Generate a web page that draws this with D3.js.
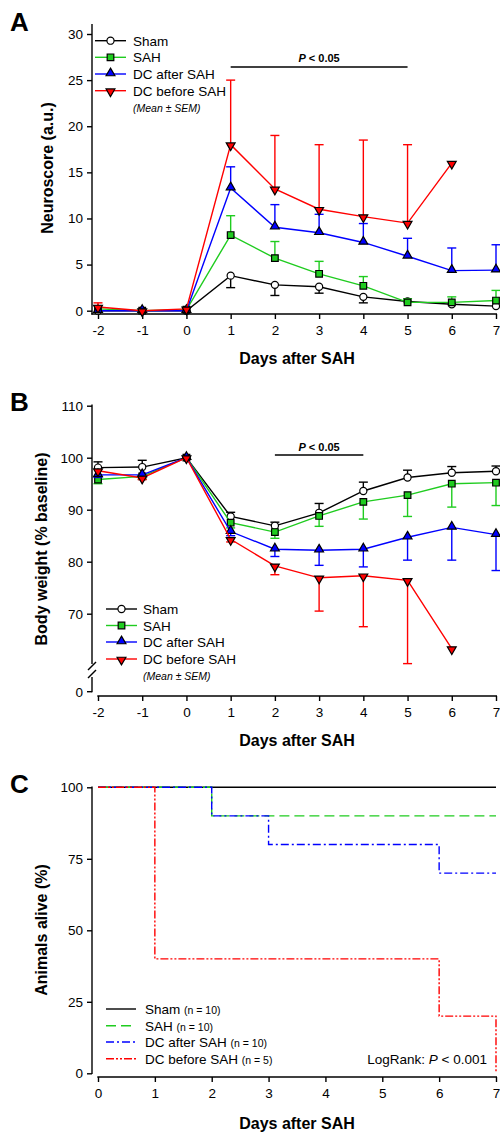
<!DOCTYPE html>
<html>
<head>
<meta charset="utf-8">
<script src="https://cdn.jsdelivr.net/npm/d3@7"></script>
<style>
  html, body { margin: 0; padding: 0; background: #fff; }
  svg { display: block; }
  text { font-family: "Liberation Sans", Arial, sans-serif; fill: #000; }
</style>
</head>
<body>
<svg id="chart" width="500" height="1135"></svg>
<script>
// ---------------- DATA ----------------
const seriesNames = ["Sham", "SAH", "DC after SAH", "DC before SAH"];
const seriesColors = ["#000000", "#1fcc1f", "#0000ff", "#ff0000"];
const seriesSymbols = ["circle", "square", "triangleUp", "triangleDown"];

const days = [-2, -1, 0, 1, 2, 3, 4, 5, 6, 7];
const dayTicks = [-2, -1, 0, 1, 2, 3, 4, 5, 6, 7];

// Panel A: Neuroscore (a.u.)
const neuroSham = [0, 0, 0, 3.8, 2.8, 2.6, 1.5, 1.0, 0.7, 0.5];
const neuroShamErr = [0, 0, 0, -1.3, -1.15, -0.7, -0.65, 0, 0, 0];
const neuroSAH = [0.2, 0, 0.1, 8.2, 5.7, 4.0, 2.7, 0.9, 0.9, 1.1];
const neuroSAHErr = [0, 0, 0, 2.1, 1.8, 1.35, 1.0, 0.4, 0.6, 1.1];
const neuroDCafter = [0, 0, 0, 13.3, 9.05, 8.45, 7.4, 5.9, 4.35, 4.4];
const neuroDCafterErr = [0, 0, 0, 2.3, 2.45, 2.0, 2.05, 1.95, 2.45, 2.75];
const neuroDCbefore = [0.4, 0, 0.2, 18.0, 13.2, 11.0, 10.2, 9.5, 16.0, null];
const neuroDCbeforeErr = [0.45, 0, 0, 7.0, 5.8, 7.0, 8.3, 8.5, 0, null];
const neuroTicks = [0, 5, 10, 15, 20, 25, 30];

// Panel B: Body weight (% baseline)
const bwSham = [98.1, 98.2, 100, 88.7, 86.9, 89.4, 93.6, 96.2, 97.1, 97.4];
const bwShamErr = [1.1, 1.3, 0, 0.8, 0.7, 1.8, 1.7, 1.4, 1.2, 1.0];
const bwSAH = [95.8, 96.4, 100, 87.5, 85.7, 88.8, 91.5, 92.8, 95.0, 95.2];
const bwSAHErr = [-0.8, -0.5, 0, -1.0, -1.2, -2.0, -3.3, -4.1, -4.5, -4.4];
const bwDCafter = [96.7, 96.7, 100, 85.8, 82.4, 82.2, 82.4, 84.7, 86.6, 85.2];
const bwDCafterErr = [-0.5, -0.4, 0, -0.8, -1.4, -2.9, -3.4, -4.4, -6.3, -6.9];
const bwDCbefore = [97.5, 96.1, 100, 84.3, 79.2, 76.9, 77.3, 76.4, 63.3, null];
const bwDCbeforeErr = [0, -0.3, 0, -0.5, -1.7, -6.4, -9.8, -16.0, 0, null];
const bwTicks = [70, 80, 90, 100, 110];

// Panel C: Animals alive (%) — Kaplan–Meier steps
const survDays = [0, 1, 2, 3, 4, 5, 6, 7];
const survShamT = [0, 7], survShamV = [100, 100];
const survSAHT = [0, 2, 7], survSAHV = [100, 90, 90];
const survDCafterT = [0, 2, 3, 6, 7], survDCafterV = [100, 90, 80, 70, 70];
const survDCbeforeT = [0, 1, 6, 7], survDCbeforeV = [100, 40, 20, 0];
const survTicks = [0, 25, 50, 75, 100];
const survN = ["(n = 10)", "(n = 10)", "(n = 10)", "(n = 5)"];
const survDash = [null, "10,5", "8,3,2,3", "8,2,2,2,2,2"];

// ---------------- DRAWING ----------------
const svg = d3.select("#chart");
const FONT = '"Liberation Sans", Arial, sans-serif';
const LW = 1.4;
const fmt = d => String(d);

function symbolPath(kind) {
  if (kind === "circle") return d3.symbol(d3.symbolCircle, 40)();
  if (kind === "square") return d3.symbol(d3.symbolSquare, 44)();
  return d3.symbol(d3.symbolTriangle, 34)();
}
function drawMarker(g, kind, color, x, y) {
  const p = g.append("path")
    .attr("d", symbolPath(kind))
    .attr("fill", kind === "circle" ? "#fff" : color)
    .attr("stroke", "#000").attr("stroke-width", 1.2);
  if (kind === "triangleDown") p.attr("transform", `translate(${x},${y + 0.8}) rotate(180)`);
  else if (kind === "triangleUp") p.attr("transform", `translate(${x},${y - 0.8})`);
  else p.attr("transform", `translate(${x},${y})`);
}

function panelLetter(txt, y) {
  svg.append("text").attr("x", 10).attr("y", y).text(txt)
    .attr("font-size", 26).attr("font-weight", "bold");
}
function yTitle(txt, x, cy) {
  svg.append("text").attr("transform", `translate(${x},${cy}) rotate(-90)`)
    .attr("text-anchor", "middle").attr("font-size", 16).attr("font-weight", "bold").text(txt);
}
function xTitle(txt, cx, y) {
  svg.append("text").attr("x", cx).attr("y", y).attr("text-anchor", "middle")
    .attr("font-size", 16).attr("font-weight", "bold").text(txt);
}
function styleAxis(g) {
  g.selectAll("path.domain").remove();
  g.selectAll(".tick line").attr("stroke", "#000").attr("stroke-width", LW);
  g.selectAll(".tick text").attr("font-size", 13.5).attr("font-family", FONT).attr("fill", "#000");
}
function pText(g, x, y, size) {
  const t = g.append("text").attr("x", x).attr("y", y).attr("text-anchor", "middle")
    .attr("font-size", size).attr("font-weight", "bold");
  t.append("tspan").attr("font-style", "italic").text("P");
  t.append("tspan").text(" < 0.05");
}

function drawSeriesPanel(cfg) {
  const { x, y, data } = cfg;
  const g = svg.append("g");
  data.forEach((s, si) => {
    const color = seriesColors[si];
    const pts = days.map((d, i) => ({ d, v: s.mean[i], e: s.err[i] })).filter(p => p.v != null);
    pts.forEach(p => {
      if (!p.e) return;
      const x0 = x(p.d), y0 = y(p.v), y1 = y(p.v + p.e);
      g.append("line").attr("x1", x0).attr("x2", x0).attr("y1", y0).attr("y2", y1)
        .attr("stroke", color).attr("stroke-width", LW);
      g.append("line").attr("x1", x0 - 4.5).attr("x2", x0 + 4.5).attr("y1", y1).attr("y2", y1)
        .attr("stroke", color).attr("stroke-width", LW);
    });
    g.append("path").datum(pts)
      .attr("d", d3.line().x(p => x(p.d)).y(p => y(p.v)))
      .attr("fill", "none").attr("stroke", color).attr("stroke-width", LW);
    pts.forEach(p => drawMarker(g, seriesSymbols[si], color, x(p.d), y(p.v)));
  });
}

function drawLegendMarkers(x0, x1, tx, rows, meanY) {
  const g = svg.append("g");
  seriesNames.forEach((n, i) => {
    g.append("line").attr("x1", x0).attr("x2", x1).attr("y1", rows[i]).attr("y2", rows[i])
      .attr("stroke", seriesColors[i]).attr("stroke-width", LW);
    drawMarker(g, seriesSymbols[i], seriesColors[i], (x0 + x1) / 2, rows[i]);
    g.append("text").attr("x", tx).attr("y", rows[i] + 5).attr("font-size", 13.5).text(n);
  });
  g.append("text").attr("x", tx).attr("y", meanY).attr("font-size", 10.5)
    .attr("font-style", "italic").text("(Mean \u00b1 SEM)");
}

// ===== Panel A =====
{
  const x = d3.scaleLinear().domain([-2, 7]).range([98, 496]);
  const y = d3.scaleLinear().domain([0, 30]).range([310.7, 34]);
  panelLetter("A", 31);
  svg.append("line").attr("x1", 92).attr("x2", 92).attr("y1", 24).attr("y2", 314.5)
    .attr("stroke", "#000").attr("stroke-width", LW);
  svg.append("line").attr("x1", 91.3).attr("x2", 497).attr("y1", 314).attr("y2", 314)
    .attr("stroke", "#000").attr("stroke-width", LW);
  const ya = svg.append("g").attr("transform", "translate(92,0)")
    .call(d3.axisLeft(y).tickValues(neuroTicks).tickSize(5).tickPadding(4).tickFormat(fmt));
  styleAxis(ya);
  const xa = svg.append("g").attr("transform", "translate(0,314)")
    .call(d3.axisBottom(x).tickValues(dayTicks).tickSize(5).tickPadding(6).tickFormat(fmt));
  styleAxis(xa);
  yTitle("Neuroscore (a.u.)", 53, 168);
  xTitle("Days after SAH", 297, 364);

  svg.append("line").attr("x1", x(1)).attr("x2", x(5)).attr("y1", 67).attr("y2", 67)
    .attr("stroke", "#000").attr("stroke-width", LW);
  pText(svg, x(3), 62, 11);

  drawSeriesPanel({ x, y, data: [
    { mean: neuroSham, err: neuroShamErr },
    { mean: neuroSAH, err: neuroSAHErr },
    { mean: neuroDCafter, err: neuroDCafterErr },
    { mean: neuroDCbefore, err: neuroDCbeforeErr }
  ]});
  drawLegendMarkers(95, 126, 133, [40.7, 57.3, 74, 90.7], 112);
}

// ===== Panel B =====
{
  const x = d3.scaleLinear().domain([-2, 7]).range([98, 496]);
  const y = d3.scaleLinear().domain([60, 110]).range([665.7, 405.7]);
  const yZero = 691.7;
  panelLetter("B", 411);
  svg.append("line").attr("x1", 92).attr("x2", 92).attr("y1", 404.5).attr("y2", 664)
    .attr("stroke", "#000").attr("stroke-width", LW);
  svg.append("line").attr("x1", 92).attr("x2", 92).attr("y1", 677).attr("y2", yZero + 0.6)
    .attr("stroke", "#000").attr("stroke-width", LW);
  svg.append("line").attr("x1", 88).attr("x2", 96).attr("y1", 670).attr("y2", 662)
    .attr("stroke", "#000").attr("stroke-width", LW);
  svg.append("line").attr("x1", 88).attr("x2", 96).attr("y1", 678).attr("y2", 670)
    .attr("stroke", "#000").attr("stroke-width", LW);
  svg.append("line").attr("x1", 97.3).attr("x2", 497).attr("y1", 696).attr("y2", 696)
    .attr("stroke", "#000").attr("stroke-width", LW);
  const ya = svg.append("g").attr("transform", "translate(92,0)")
    .call(d3.axisLeft(y).tickValues(bwTicks).tickSize(5).tickPadding(4).tickFormat(fmt));
  styleAxis(ya);
  svg.append("line").attr("x1", 87).attr("x2", 92).attr("y1", yZero).attr("y2", yZero)
    .attr("stroke", "#000").attr("stroke-width", LW);
  svg.append("text").attr("x", 83).attr("y", yZero + 5).attr("text-anchor", "end")
    .attr("font-size", 13.5).text("0");
  const xa = svg.append("g").attr("transform", "translate(0,696)")
    .call(d3.axisBottom(x).tickValues(dayTicks).tickSize(5).tickPadding(6).tickFormat(fmt));
  styleAxis(xa);
  yTitle("Body weight (% baseline)", 47, 549);
  xTitle("Days after SAH", 297, 746);

  svg.append("line").attr("x1", x(2)).attr("x2", x(4)).attr("y1", 455).attr("y2", 455)
    .attr("stroke", "#000").attr("stroke-width", LW);
  pText(svg, x(3), 450.5, 11);

  drawSeriesPanel({ x, y, data: [
    { mean: bwSham, err: bwShamErr },
    { mean: bwSAH, err: bwSAHErr },
    { mean: bwDCafter, err: bwDCafterErr },
    { mean: bwDCbefore, err: bwDCbeforeErr }
  ]});
  drawLegendMarkers(106, 137, 143, [609, 625.5, 642, 659], 680);
}

// ===== Panel C =====
{
  const x = d3.scaleLinear().domain([0, 7]).range([98, 496]);
  const y = d3.scaleLinear().domain([0, 100]).range([1073.3, 787.3]);
  panelLetter("C", 793);
  svg.append("line").attr("x1", 92).attr("x2", 92).attr("y1", 786.6).attr("y2", 1074)
    .attr("stroke", "#000").attr("stroke-width", LW);
  svg.append("line").attr("x1", 97.3).attr("x2", 497).attr("y1", 1077).attr("y2", 1077)
    .attr("stroke", "#000").attr("stroke-width", LW);
  const ya = svg.append("g").attr("transform", "translate(92,0)")
    .call(d3.axisLeft(y).tickValues(survTicks).tickSize(5).tickPadding(4).tickFormat(fmt));
  styleAxis(ya);
  const xa = svg.append("g").attr("transform", "translate(0,1077)")
    .call(d3.axisBottom(x).tickValues(survDays).tickSize(5).tickPadding(6).tickFormat(fmt));
  styleAxis(xa);
  yTitle("Animals alive (%)", 47, 930);
  xTitle("Days after SAH", 297, 1129);

  const survT = [survShamT, survSAHT, survDCafterT, survDCbeforeT];
  const survV = [survShamV, survSAHV, survDCafterV, survDCbeforeV];
  const line = d3.line().curve(d3.curveStepAfter).x(p => x(p[0])).y(p => y(p[1]));
  survT.forEach((T, si) => {
    const pts = T.map((t, i) => [t, survV[si][i]]);
    const p = svg.append("path").datum(pts).attr("d", line)
      .attr("fill", "none").attr("stroke", seriesColors[si]).attr("stroke-width", LW);
    if (survDash[si]) p.attr("stroke-dasharray", survDash[si]);
  });

  const rows = [1009, 1025.7, 1042, 1058.7];
  seriesNames.forEach((n, i) => {
    const l = svg.append("line").attr("x1", 106).attr("x2", 136).attr("y1", rows[i]).attr("y2", rows[i])
      .attr("stroke", seriesColors[i]).attr("stroke-width", LW);
    if (survDash[i]) l.attr("stroke-dasharray", survDash[i]);
    const t = svg.append("text").attr("x", 145).attr("y", rows[i] + 5).attr("font-size", 13.5);
    t.append("tspan").text(n + " ");
    t.append("tspan").attr("font-size", 10.5).text(survN[i]);
  });
  const lr = svg.append("text").attr("x", 487).attr("y", 1063.5).attr("text-anchor", "end")
    .attr("font-size", 13.5);
  lr.append("tspan").text("LogRank: ");
  lr.append("tspan").attr("font-style", "italic").text("P");
  lr.append("tspan").text(" < 0.001");
}
</script>
</body>
</html>
